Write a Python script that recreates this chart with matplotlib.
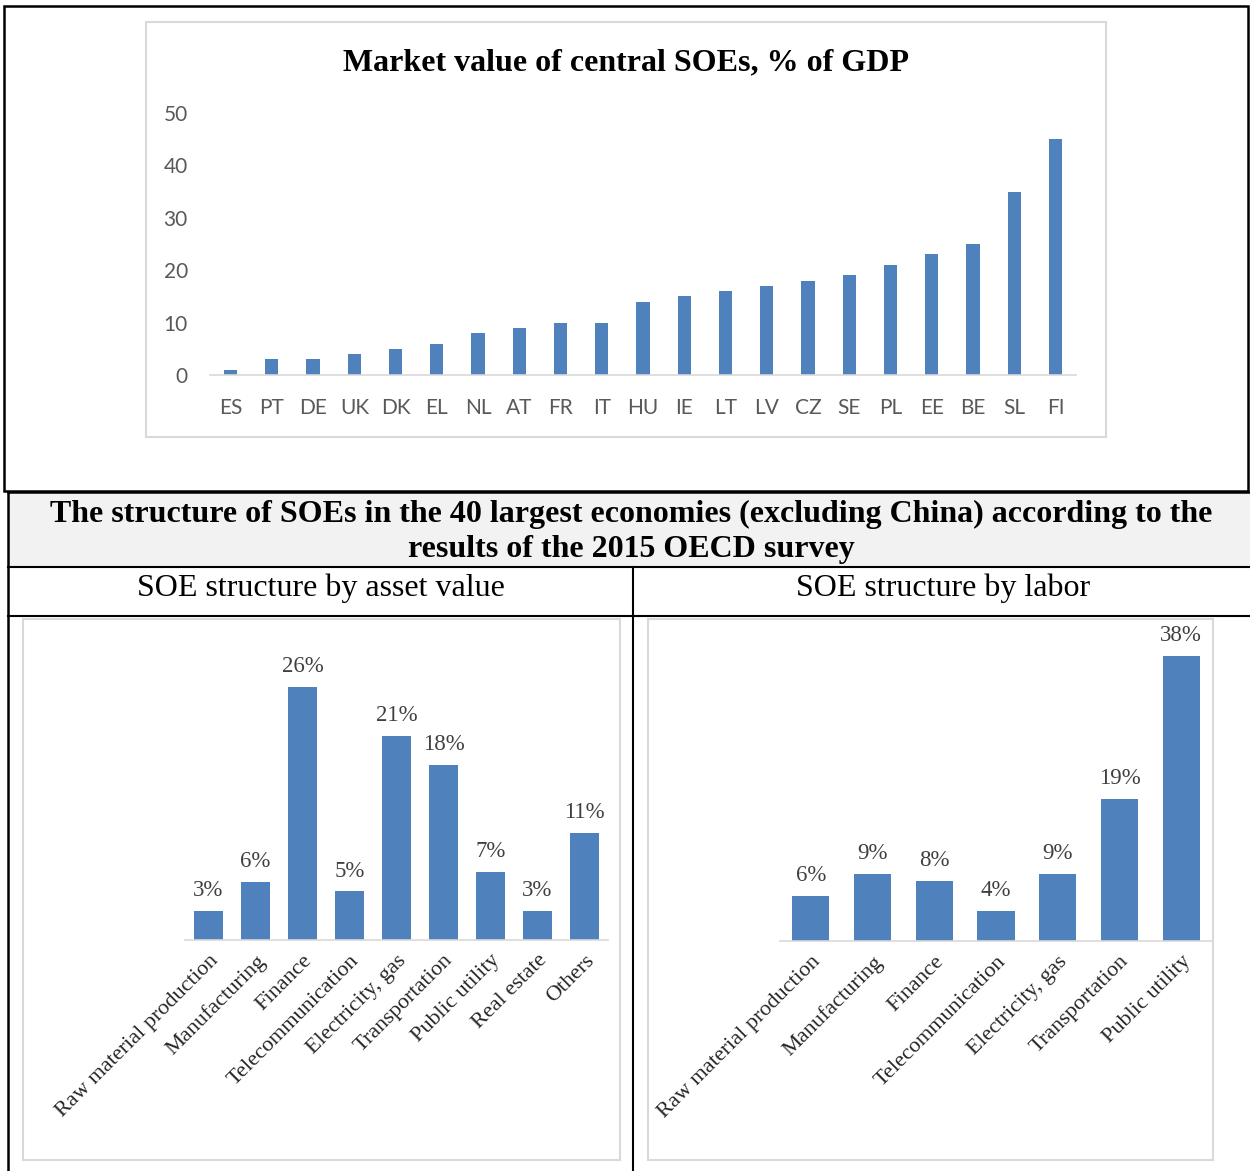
import matplotlib
matplotlib.use("Agg")
import matplotlib.pyplot as plt
from matplotlib.patches import Rectangle

W, H = 1250, 1171

# market value of central SOEs, % of GDP
countries = ["ES", "PT", "DE", "UK", "DK", "EL", "NL", "AT", "FR", "IT", "HU",
             "IE", "LT", "LV", "CZ", "SE", "PL", "EE", "BE", "SL", "FI"]
market_value = [1, 3, 3, 4, 5, 6, 8, 9, 10, 10, 14, 15, 16, 17, 18, 19, 21, 23, 25, 35, 45]

# structure by asset value, %
asset_sectors = ["Raw material production", "Manufacturing", "Finance",
                 "Telecommunication", "Electricity, gas", "Transportation",
                 "Public utility", "Real estate", "Others"]
asset_share = [3, 6, 26, 5, 21, 18, 7, 3, 11]

# structure by labor, %
labor_sectors = ["Raw material production", "Manufacturing", "Finance",
                 "Telecommunication", "Electricity, gas", "Transportation",
                 "Public utility"]
labor_share = [6, 9, 8, 4, 9, 19, 38]

BLUE = "#4f81bd"
SERIF = "Liberation Serif"
SANS = "Lato"


def px_axes(fig, x0, y0, x1, y1, **kw):
    return fig.add_axes([x0 / W, 1 - y1 / H, (x1 - x0) / W, (y1 - y0) / H], **kw)


fig = plt.figure(figsize=(W / 100, H / 100), dpi=100)
fig.patch.set_facecolor("white")

# frame layer in pixel coordinates
ov = fig.add_axes([0, 0, 1, 1])
ov.set_xlim(0, W)
ov.set_ylim(H, 0)
ov.axis("off")

# top frame
ov.add_patch(Rectangle((4, 6), 1244, 485, fill=False, ec="black", lw=1.8))
ov.add_patch(Rectangle((146, 22), 960, 415, fc="white", ec="#d9d9d9", lw=1.5))

# table below
ov.add_patch(Rectangle((8, 492), 1250, 75, fc="#f2f2f2", ec="none"))
ov.plot([8, 1250], [492, 492], color="black", lw=1.8)
ov.plot([8, 1250], [567, 567], color="black", lw=1.5)
ov.plot([8, 1250], [616, 616], color="black", lw=1.5)
ov.plot([8, 8], [492, 1171], color="black", lw=1.8)
ov.plot([633, 633], [567, 1171], color="black", lw=1.5)
ov.add_patch(Rectangle((23, 619), 597, 541, fc="white", ec="#d9d9d9", lw=1.5))
ov.add_patch(Rectangle((648, 619), 565, 541, fc="white", ec="#d9d9d9", lw=1.5))

ov.text(626, 63, "Market value of central SOEs, % of GDP", ha="center", va="center",
        family=SERIF, weight="bold", fontsize=23)
ov.text(631, 514, "The structure of SOEs in the 40 largest economies (excluding China) according to the",
        ha="center", va="center", family=SERIF, weight="bold", fontsize=23)
ov.text(631, 549, "results of the 2015 OECD survey", ha="center", va="center",
        family=SERIF, weight="bold", fontsize=23)
ov.text(321, 588, "SOE structure by asset value", ha="center", va="center",
        family=SERIF, fontsize=23)
ov.text(943, 588, "SOE structure by labor", ha="center", va="center",
        family=SERIF, fontsize=23)

# top chart
ax = px_axes(fig, 210, 113, 1076, 375)
x = range(len(countries))
ax.bar(x, market_value, width=0.32, color=BLUE)
ax.set_xlim(-0.5, len(countries) - 0.5)
ax.set_ylim(0, 50)
ax.set_yticks(range(0, 51, 10))
ax.set_xticks(list(x))
ax.set_xticklabels(countries)
for s in ["top", "right", "left"]:
    ax.spines[s].set_visible(False)
ax.spines["bottom"].set_color("#d9d9d9")
ax.spines["bottom"].set_linewidth(1.2)
ax.tick_params(length=0, labelsize=15, labelcolor="#595959")
ax.tick_params(axis="y", pad=16)
ax.tick_params(axis="x", pad=16.5)
for lab in ax.get_xticklabels() + ax.get_yticklabels():
    lab.set_family(SANS)
ax.patch.set_alpha(0)


def sector_chart(box, cats, vals, ymax):
    a = px_axes(fig, *box)
    pos = range(len(cats))
    bars = a.bar(pos, vals, width=0.6, color=BLUE)
    a.set_xlim(-0.5, len(cats) - 0.5)
    a.set_ylim(0, ymax)
    a.set_yticks([])
    a.set_xticks(list(pos))
    a.set_xticklabels(cats, rotation=45, ha="right", rotation_mode="anchor",
                      family=SERIF, fontsize=16, color="#262626")
    a.tick_params(length=0, pad=8)
    for s in ["top", "right", "left"]:
        a.spines[s].set_visible(False)
    a.spines["bottom"].set_color("#d9d9d9")
    a.spines["bottom"].set_linewidth(1.2)
    for b, v in zip(bars, vals):
        a.annotate(f"{v}%", (b.get_x() + b.get_width() / 2, v), xytext=(0, 7),
                   textcoords="offset points", ha="center", va="bottom",
                   family=SERIF, fontsize=16.5, color="#404040", clip_on=False)
    a.patch.set_alpha(0)
    return a


sector_chart((185, 648, 608, 940), asset_sectors, asset_share, 30)
sector_chart((780, 641, 1212, 941), labor_sectors, labor_share, 40)

fig.savefig("out.png", dpi=100)
